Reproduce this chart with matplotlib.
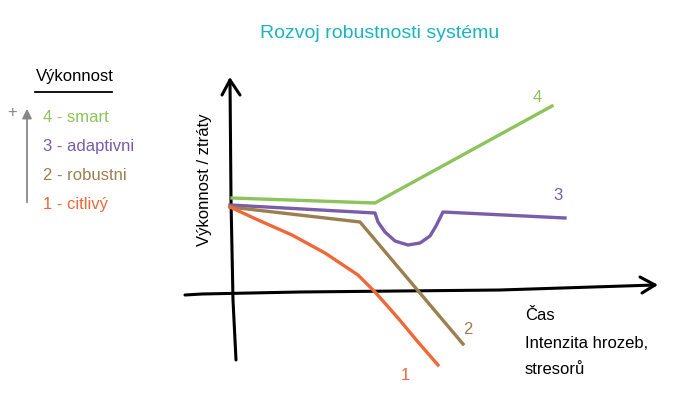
import matplotlib
matplotlib.use('Agg')
import matplotlib.pyplot as plt

# barvy
GREEN = '#8cc35a'
PURPLE = '#7a5ca8'
BROWN = '#9b7f4f'
ORANGE = '#ef6838'
TEAL = '#1ab4c1'

# data: t = čas / intenzita, v = výkonnost
t_smart = [0, 143, 320]
v_smart = [94, 89, 186]

t_adapt = [-2, 143, 146, 153, 163, 176, 188, 198, 204, 208, 211, 333]
v_adapt = [87, 79, 70, 60, 51, 47, 49, 56, 66, 74, 80, 74]

t_robust = [-2, 128, 231]
v_robust = [85, 70, -52]

t_citlivy = [-2, 26, 60, 93, 126, 143, 166, 186, 206]
v_citlivy = [85, 72, 57, 39, 17, 0, -26, -50, -73]

legend_labels = ['4 - smart', '3 - adaptivni', '2 - robustni', '1 - citlivý']
legend_colors = [GREEN, PURPLE, BROWN, ORANGE]

plt.rcParams['font.family'] = ['Liberation Sans Narrow', 'Liberation Sans', 'DejaVu Sans']

fig = plt.figure(figsize=(6.9, 4.0), dpi=100)
ax = fig.add_axes([0, 0, 1, 1])
ax.set_xlim(-232, 458)
ax.set_ylim(-108, 292)
ax.axis('off')

# osy
ax.plot([4, 1, -1, -2], [-68, -8, 92, 212], color='black', lw=2.2, solid_capstyle='round')
ax.plot([-10, -2, 8], [197, 212, 197], color='black', lw=2.2, solid_capstyle='round', solid_joinstyle='round')
ax.plot([-47, -30, 68, 268, 423], [-3, -2, 0, 2, 7], color='black', lw=2.2, solid_capstyle='round')
ax.plot([408, 423, 410], [15, 7, -1], color='black', lw=2.2, solid_capstyle='round', solid_joinstyle='round')

# křivky
ax.plot(t_smart, v_smart, color=GREEN, lw=2.4, solid_joinstyle='round')
ax.plot(t_adapt, v_adapt, color=PURPLE, lw=2.4, solid_joinstyle='round')
ax.plot(t_robust, v_robust, color=BROWN, lw=2.4, solid_joinstyle='round')
ax.plot(t_citlivy, v_citlivy, color=ORANGE, lw=2.4, solid_joinstyle='round')

ax.text(305, 194, '4', color=GREEN, fontsize=12, ha='center', va='center')
ax.text(326, 96, '3', color=PURPLE, fontsize=12, ha='center', va='center')
ax.text(236, -38, '2', color=BROWN, fontsize=12, ha='center', va='center')
ax.text(173, -83, '1', color=ORANGE, fontsize=12, ha='center', va='center')

ax.text(148, 258, 'Rozvoj robustnosti systému', color=TEAL, fontsize=14,
        ha='center', va='center')
ax.text(-27, 112, 'Výkonnost / ztráty', color='black', fontsize=12,
        rotation=90, ha='center', va='center')
ax.text(293, -51, 'Čas\nIntenzita hrozeb,\nstresorů', color='black', fontsize=12,
        ha='left', va='center', linespacing=2.0)

# legenda
ax.text(-157, 215, 'Výkonnost', color='black', fontsize=12, ha='center', va='center')
ax.plot([-197, -120], [200, 200], color='black', lw=1.3)
ax.annotate('', xy=(-205, 186), xytext=(-205, 87),
            arrowprops=dict(arrowstyle='-|>', color='#888888', lw=1.3, mutation_scale=14))
ax.text(-220, 180, '+', color='#888888', fontsize=12, ha='center', va='center')
for i, (lab, col) in enumerate(zip(legend_labels, legend_colors)):
    ax.text(-189, 175 - i * 29, lab, color=col, fontsize=12, ha='left', va='center')

fig.savefig('out.png', dpi=100)
